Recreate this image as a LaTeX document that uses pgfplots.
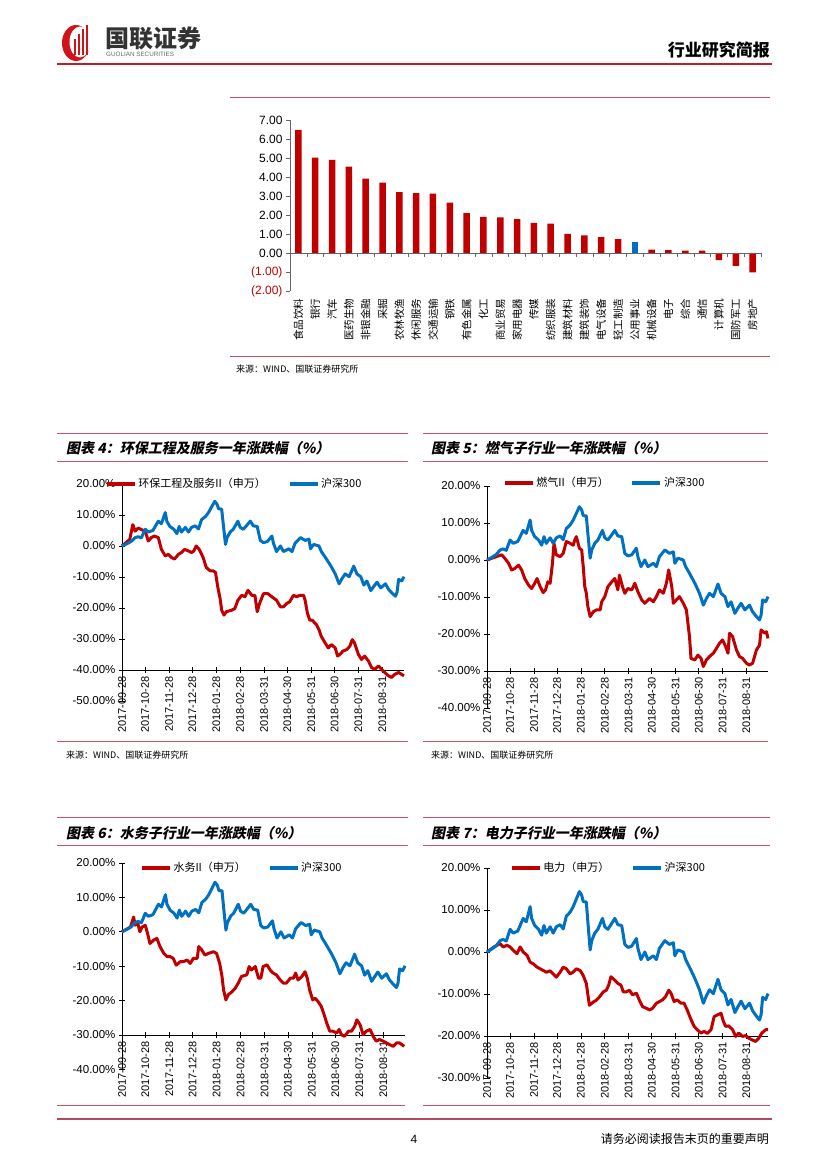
\documentclass[border=0pt]{standalone}
\usepackage{fontspec}
\usepackage{pgfplots}
\usepackage{pgfplotstable}
\pgfplotsset{compat=1.18}
\setmainfont{Liberation Sans}
\newfontfamily\cjk{Noto Sans CJK SC}
\newfontfamily\cjkt[FakeSlant=0.2]{Noto Sans CJK SC}

\definecolor{barred}{HTML}{C00000}
\definecolor{barblue}{HTML}{0070C0}
\definecolor{linered}{HTML}{C00000}
\definecolor{lineblue}{HTML}{0070C0}
\definecolor{rulec}{HTML}{C8506A}
\definecolor{headred}{HTML}{B8202A}
\definecolor{logored}{HTML}{D0121B}

% 沪深300
\pgfplotstableread{
d v
0 0
7 0.8
12 1.5
17 2.7
21 3.0
25 2.6
30 5.4
34 4.5
40 5.0
43 6.3
47 8.0
51 7.2
56 10.8
58 8.0
62 6.3
67 5.4
71 4.0
74 6.3
77 4.5
82 6.0
86 4.5
90 6.0
95 6.5
99 5.5
103 8.5
108 9.5
112 10.8
116 12.6
120 14.4
123 13.5
125 12.0
129 11.9
131 7.2
134 0.5
136 2.7
140 4.5
144 5.4
150 8.0
153 6.0
157 5.4
162 6.8
166 8.0
170 6.5
175 6.3
179 1.8
183 1.1
188 1.4
194 3.2
196 0.9
200 -1.8
205 0
209 -1.8
216 -0.9
220 -1.8
224 0.9
231 2.7
237 1.8
242 2.2
244 -0.9
248 0.5
255 0
258 -1.8
263 -3.6
270 -6.3
276 -9.0
281 -12.2
285 -10.4
289 -9.0
294 -9.9
300 -6.5
304 -9.0
309 -9.9
313 -12.6
317 -11.3
322 -14.4
326 -13.0
330 -11.7
335 -13.5
341 -12.2
345 -14.0
350 -15.3
354 -16.2
356 -14.9
358 -10.8
362 -11.3
365 -9.9
}\hs

% 环保工程及服务II
\pgfplotstableread{
d v
0 0
10 2.1
14 6.9
17 4.8
21 5.8
25 5.3
30 4.8
34 1.6
38 2.7
42 3.2
47 2.7
51 -1.1
56 -3.2
60 -2.7
64 -3.7
68 -4.2
73 -2.7
77 -2.1
81 -1.1
86 -1.6
90 -2.1
93 -1.6
96 0
100 -1.1
105 -3.7
109 -6.9
114 -8.0
118 -8.0
121 -8.5
124 -13.3
127 -17.0
129 -20.7
132 -22.3
135 -21.2
142 -20.7
146 -20.2
150 -17.5
155 -15.9
159 -16.4
163 -14.3
168 -15.9
172 -15.9
175 -21.2
178 -18.6
183 -15.4
189 -15.4
194 -16.4
200 -17.5
205 -19.6
209 -19.6
213 -18.6
217 -18.0
222 -15.9
226 -16.4
230 -15.9
235 -15.9
237 -17.5
240 -21.7
243 -23.9
246 -23.9
252 -25.5
255 -27.0
258 -29.2
263 -31.3
267 -32.9
271 -31.8
276 -32.9
279 -35.5
282 -35.0
286 -33.9
291 -33.4
295 -32.3
298 -30.2
301 -31.3
306 -35.0
310 -36.6
314 -35.5
319 -37.1
323 -39.2
327 -39.8
332 -38.7
336 -39.8
340 -40.8
345 -41.9
349 -42.4
353 -41.4
358 -40.8
365 -41.9
}\hb

% 燃气II
\pgfplotstableread{
d v
0 0
12 0.9
19 1.4
23 0.5
28 -0.9
32 -2.7
36 -2.3
41 -1.4
45 -2.7
49 -5.0
54 -6.8
58 -7.7
62 -6.3
65 -5.0
69 -7.2
73 -8.8
76 -8.1
79 -5.9
82 -6.3
85 -0.9
87 4.5
90 1.4
95 0.9
99 1.8
103 5.0
108 4.5
112 4.0
114 5.4
116 6.3
120 3.2
123 2.7
125 -1.8
127 -7.2
129 -9.0
131 -12.6
134 -15.3
138 -14.0
142 -13.5
147 -13.5
149 -11.3
153 -9.9
157 -7.2
162 -5.9
166 -5.0
170 -8.1
172 -4.1
176 -7.2
179 -9.0
183 -7.7
188 -8.1
192 -6.3
196 -8.6
201 -10.8
205 -11.7
211 -10.4
216 -11.3
220 -9.9
224 -8.1
229 -9.0
233 -6.3
236 -2.7
240 -7.2
242 -11.7
246 -10.8
250 -9.9
255 -11.7
259 -13.5
263 -20.7
265 -26.6
270 -27.0
274 -25.7
278 -26.6
281 -28.8
285 -27.0
289 -26.1
294 -25.2
298 -23.9
302 -22.5
306 -21.6
310 -23.4
313 -25.2
315 -19.8
319 -20.7
324 -24.3
328 -26.1
332 -26.6
337 -27.9
341 -28.4
345 -27.9
350 -24.3
354 -23.0
356 -18.9
361 -19.8
363 -19.4
365 -21.2
}\rq

% 水务II
\pgfplotstableread{
d v
0 0
11 1.4
15 4.3
17 1.9
20 2.9
23 0
26 1.4
30 1.9
33 -0.5
36 -3.4
41 -2.4
45 -1.9
49 -4.3
54 -6.3
58 -7.2
62 -7.2
66 -7.7
70 -9.7
75 -8.7
79 -8.7
84 -8.2
88 -9.2
92 -7.7
97 -7.7
99 -4.3
103 -5.3
107 -6.8
111 -6.3
118 -5.8
122 -6.3
126 -9.2
129 -13.0
131 -16.9
134 -19.8
137 -18.3
142 -17.4
146 -16.4
150 -14.9
154 -13.0
161 -12.5
164 -10.1
167 -11.1
172 -10.1
176 -13.5
179 -13.5
182 -10.1
187 -9.6
191 -11.1
195 -12.0
199 -12.5
204 -14.0
208 -14.9
212 -14.9
217 -13.5
221 -13.5
224 -12.0
227 -14.0
232 -13.0
236 -11.6
239 -13.5
242 -16.9
246 -19.8
249 -19.3
253 -20.3
257 -21.7
260 -23.6
264 -26.5
268 -28.9
272 -28.9
277 -29.4
280 -28.4
283 -29.9
287 -30.4
292 -28.9
296 -28.9
300 -27.5
303 -25.6
307 -27.0
311 -29.9
315 -28.9
320 -28.4
324 -30.4
328 -31.8
332 -31.3
337 -31.8
341 -32.3
345 -32.8
350 -33.3
354 -32.3
358 -32.3
364 -33.3
}\sw

% 电力
\pgfplotstableread{
d v
0 0
9 1.2
17 2.0
21 1.2
26 1.6
30 1.2
34 0.4
39 -0.4
43 1.2
47 0
52 -0.8
56 -2.4
60 -2.8
65 -3.6
69 -4.0
73 -4.4
77 -4.8
82 -4.5
86 -5.2
90 -6.0
95 -4.8
99 -3.6
103 -4.0
108 -5.2
112 -4.8
116 -4.0
121 -4.4
125 -5.6
129 -7.5
133 -12.7
138 -11.9
142 -11.5
146 -10.7
151 -9.5
155 -9.1
158 -7.9
161 -5.9
166 -6.7
170 -7.5
174 -7.9
177 -9.5
181 -9.5
185 -9.1
189 -10.2
194 -9.8
198 -11.5
202 -13.0
207 -13.4
211 -13.8
215 -13.4
220 -12.2
224 -11.8
228 -11.4
232 -10.6
236 -9.1
239 -9.8
243 -11.8
247 -11.4
252 -12.2
256 -12.2
260 -13.8
265 -16.1
269 -17.7
273 -18.5
278 -19.3
282 -18.9
286 -19.4
291 -18.5
295 -15.4
299 -15.0
304 -14.6
307 -16.5
310 -17.7
314 -17.6
319 -18.5
323 -20.1
327 -19.3
332 -20.1
336 -19.9
340 -20.5
344 -20.9
349 -21.3
353 -20.5
357 -19.3
362 -18.5
365 -18.5
}\dl

\pgfplotsset{
  lchart/.style={
    anchor=south west, scale only axis,
    xmin=0, xmax=365,
    axis x line*=bottom, axis y line*=left,
    axis line style={black, line width=0.6pt},
    tick align=center, major tick length=6pt,
    tick style={black, line width=0.6pt},
    xtick={0,30,61,91,122,153,184,214,245,275,306,337},
    xticklabels={2017-09-28,2017-10-28,2017-11-28,2017-12-28,2018-01-28,2018-02-28,2018-03-31,2018-04-30,2018-05-31,2018-06-30,2018-07-31,2018-08-31},
    x tick label style={rotate=90, anchor=east, font=\fontsize{11}{11}\selectfont},
    ytick distance=10,
    y tick label style={font=\fontsize{11.5}{12}\selectfont},
    yticklabel={\pgfmathprintnumber[fixed,fixed zerofill,precision=2,assume math mode=true]{\tick}\%},
    clip=false,
    legend columns=2,
    legend cell align=left,
    legend style={draw=none, fill=none, inner sep=0pt, anchor=west,
      font=\cjk\fontsize{11}{12}\selectfont,
      /tikz/every even column/.append style={column sep=20pt}},
    legend image code/.code={\draw[##1, line width=3.2pt] (0pt,0pt) -- (28pt,0pt);},
  },
  redline/.style={linered, line width=3pt, line join=round},
  blueline/.style={lineblue, line width=3pt, line join=round},
}

\begin{document}
\begin{tikzpicture}[x=1pt,y=1pt]
\path[use as bounding box] (0,0) rectangle (827,1169);

% header
\begin{scope}[shift={(77,1126)}]
  \fill[logored] (-1,0) ellipse (14 and 18);
  \fill[white] (3,1) ellipse (10.5 and 15.5);
  \fill[logored] (-3,-12) rectangle (-1,4);
  \fill[logored] (1,-12) rectangle (3,9);
  \fill[logored] (5,-12) rectangle (7,14);
  \fill[logored] (9,-12) rectangle (11,18);
\end{scope}
\node[anchor=west, font=\cjk\bfseries\fontsize{24}{24}\selectfont, text=black!80, inner sep=0pt] at (105,1131) {国联证券};
\node[anchor=west, font=\fontsize{6.3}{7}\selectfont, text=black!60, inner sep=0pt] at (106,1115) {GUOLIAN SECURITIES};
\node[anchor=east, font=\cjk\bfseries\fontsize{17}{17}\selectfont, inner sep=0pt] at (770,1119) {行业研究简报};
\draw[headred, line width=1.8pt] (57,1105) -- (772,1105);

% bar chart frame
\draw[rulec, line width=1pt] (230,1071) -- (770,1071);
\draw[rulec, line width=1pt] (230,812) -- (770,812);
\node[anchor=west, font=\cjk\fontsize{9}{9}\selectfont, inner sep=0pt] at (236,800) {来源：WIND、国联证券研究所};

\begin{axis}[
  at={(290pt,878pt)}, anchor=south west, scale only axis,
  width=471pt, height=171pt,
  xmin=-0.5, xmax=27.5, ymin=-2, ymax=7,
  axis y line*=left, axis x line*=bottom,
  x axis line style={draw=none},
  axis line style={black!60},
  ytick={-2,...,7},
  yticklabels={{\textcolor{barred}{(2.00)}},{\textcolor{barred}{(1.00)}},0.00,1.00,2.00,3.00,4.00,5.00,6.00,7.00},
  y tick label style={font=\fontsize{12}{12}\selectfont},
  y tick style={black!60},
  tick align=outside, major tick length=4pt,
  xtick={0,...,27}, xtick style={draw=none},
  xticklabels={食品饮料,银行,汽车,医药生物,非银金融,采掘,农林牧渔,休闲服务,交通运输,钢铁,有色金属,化工,商业贸易,家用电器,传媒,纺织服装,建筑材料,建筑装饰,电气设备,轻工制造,公用事业,机械设备,电子,综合,通信,计算机,国防军工,房地产},
  x tick label style={font=\cjk\fontsize{10.5}{11}\selectfont, rotate=90, anchor=east},
  clip=false,
]
\addplot[ybar, bar width=6.5pt, bar shift=0pt, fill=barred, draw=none] coordinates {
  (0,6.48) (1,5.02) (2,4.90) (3,4.55) (4,3.92) (5,3.70) (6,3.20) (7,3.15)
  (8,3.12) (9,2.65) (10,2.10) (11,1.90) (12,1.88) (13,1.78) (14,1.58) (15,1.55)
  (16,1.00) (17,0.93) (18,0.83) (19,0.73) (21,0.18) (22,0.15) (23,0.12)
  (24,0.12) (25,-0.38) (26,-0.68) (27,-1.02)};
\addplot[ybar, bar width=6.5pt, bar shift=0pt, fill=barblue, draw=none] coordinates {(20,0.60)};
\draw[black!60] (axis cs:-0.5,0) -- (axis cs:27.5,0);
\pgfplotsinvokeforeach{0,...,28}{\draw[black!60] (axis cs:{#1-0.5},0) -- ([yshift=-4pt]axis cs:{#1-0.5},0);}
\end{axis}

% chart 4
\draw[rulec, line width=1pt] (57,735) -- (408,735);
\draw[rulec, line width=1pt] (57,707) -- (408,707);
\draw[rulec, line width=1pt] (57,427) -- (408,427);
\node[anchor=west, font=\cjkt\bfseries\fontsize{14}{14}\selectfont, inner sep=0pt] at (66,721) {图表 4：环保工程及服务一年涨跌幅（\%）};
\node[anchor=west, font=\cjk\fontsize{9}{9}\selectfont, inner sep=0pt] at (66,414) {来源：WIND、国联证券研究所};
\begin{axis}[lchart, at={(122pt,499pt)}, width=282pt, height=186pt,
  ymin=-40, ymax=20, legend style={at={(-0.06,1)}}]
\addplot[redline] table[x=d,y=v]{\hb};
\addlegendentry{环保工程及服务II（申万）}
\addplot[blueline] table[x=d,y=v]{\hs};
\addlegendentry{沪深300}
\draw[line width=0.6pt] (axis cs:0,-40) -- (axis cs:0,-50);
\draw[line width=0.6pt] ([xshift=-3pt]axis cs:0,-50) -- ([xshift=3pt]axis cs:0,-50);
\node[anchor=east, font=\fontsize{11.5}{12}\selectfont] at ([xshift=-3pt]axis cs:0,-50) {-50.00\%};
\end{axis}

% chart 5
\draw[rulec, line width=1pt] (423,735) -- (768,735);
\draw[rulec, line width=1pt] (423,707) -- (768,707);
\draw[rulec, line width=1pt] (423,427) -- (768,427);
\node[anchor=west, font=\cjkt\bfseries\fontsize{14}{14}\selectfont, inner sep=0pt] at (431,721) {图表 5：燃气子行业一年涨跌幅（\%）};
\node[anchor=west, font=\cjk\fontsize{9}{9}\selectfont, inner sep=0pt] at (431,414) {来源：WIND、国联证券研究所};
\begin{axis}[lchart, at={(487pt,498pt)}, width=281pt, height=185pt,
  ymin=-30, ymax=20, legend style={at={(0.057,1.016)}}]
\addplot[redline] table[x=d,y=v]{\rq};
\addlegendentry{燃气II（申万）}
\addplot[blueline] table[x=d,y=v]{\hs};
\addlegendentry{沪深300}
\draw[line width=0.6pt] (axis cs:0,-30) -- (axis cs:0,-40);
\draw[line width=0.6pt] ([xshift=-3pt]axis cs:0,-40) -- ([xshift=3pt]axis cs:0,-40);
\node[anchor=east, font=\fontsize{11.5}{12}\selectfont] at ([xshift=-3pt]axis cs:0,-40) {-40.00\%};
\end{axis}

% chart 6
\draw[rulec, line width=1pt] (57,351) -- (408,351);
\draw[rulec, line width=1pt] (57,323) -- (408,323);
\draw[rulec, line width=1pt] (57,63) -- (405,63);
\node[anchor=west, font=\cjkt\bfseries\fontsize{14}{14}\selectfont, inner sep=0pt] at (66,336) {图表 6：水务子行业一年涨跌幅（\%）};
\begin{axis}[lchart, at={(122pt,134pt)}, width=283pt, height=172pt,
  ymin=-30, ymax=20, legend style={at={(0.064,0.971)}}]
\addplot[redline] table[x=d,y=v]{\sw};
\addlegendentry{水务II（申万）}
\addplot[blueline] table[x=d,y=v]{\hs};
\addlegendentry{沪深300}
\draw[line width=0.6pt] (axis cs:0,-30) -- (axis cs:0,-40);
\draw[line width=0.6pt] ([xshift=-3pt]axis cs:0,-40) -- ([xshift=3pt]axis cs:0,-40);
\node[anchor=east, font=\fontsize{11.5}{12}\selectfont] at ([xshift=-3pt]axis cs:0,-40) {-40.00\%};
\end{axis}

% chart 7
\draw[rulec, line width=1pt] (423,351) -- (770,351);
\draw[rulec, line width=1pt] (423,323) -- (770,323);
\draw[rulec, line width=1pt] (423,63) -- (770,63);
\node[anchor=west, font=\cjkt\bfseries\fontsize{14}{14}\selectfont, inner sep=0pt] at (431,336) {图表 7：电力子行业一年涨跌幅（\%）};
\begin{axis}[lchart, at={(487pt,133pt)}, width=281pt, height=168pt,
  ymin=-20, ymax=20, legend style={at={(0.082,1)}}]
\addplot[redline] table[x=d,y=v]{\dl};
\addlegendentry{电力（申万）}
\addplot[blueline] table[x=d,y=v]{\hs};
\addlegendentry{沪深300}
\draw[line width=0.6pt] (axis cs:0,-20) -- (axis cs:0,-30);
\draw[line width=0.6pt] ([xshift=-3pt]axis cs:0,-30) -- ([xshift=3pt]axis cs:0,-30);
\node[anchor=east, font=\fontsize{11.5}{12}\selectfont] at ([xshift=-3pt]axis cs:0,-30) {-30.00\%};
\end{axis}

% footer
\draw[rulec!90!black, line width=2.5pt] (57,50) -- (772,50);
\node[font=\fontsize{12}{12}\selectfont, inner sep=0pt] at (414,30) {4};
\node[anchor=east, font=\cjk\fontsize{12}{12}\selectfont, inner sep=0pt] at (769,30) {请务必阅读报告末页的重要声明};
\end{tikzpicture}
\end{document}
